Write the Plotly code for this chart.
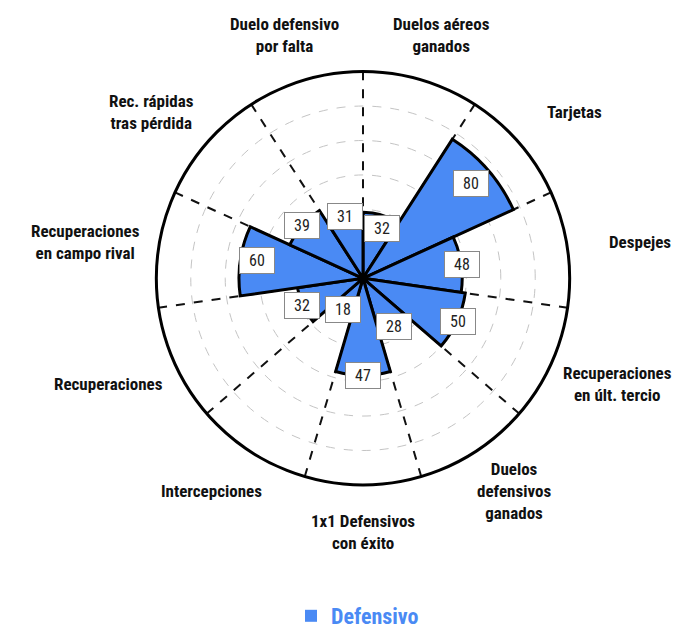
import math
import plotly.graph_objects as go

categorias = [
    "Duelos aéreos<br>ganados",
    "Tarjetas",
    "Despejes",
    "Recuperaciones<br>en últ. tercio",
    "Duelos<br>defensivos<br>ganados",
    "1x1 Defensivos<br>con éxito",
    "Intercepciones",
    "Recuperaciones",
    "Recuperaciones<br>en campo rival",
    "Rec. rápidas<br>tras pérdida",
    "Duelo defensivo<br>por falta",
]
valores = [32, 80, 48, 50, 28, 47, 18, 32, 60, 39, 31]
serie = "Defensivo"
r_max = 100

AZUL = "#4A8AF4"
FUENTE = "Roboto Condensed, Roboto, sans-serif"

# page / polar geometry (px)
W, H = 699, 629
CX, CY, R = 355, 272, 208
# category labels sit on an ellipse around the circle
LAB_A, LAB_B = 280, 255

n = len(categorias)
paso = 360 / n
centros = [i * paso + paso / 2 for i in range(n)]
limites = [i * paso for i in range(n)]

dom_x = [(CX - R) / W, (CX + R) / W]
dom_y = [1 - (CY + R) / H, 1 - (CY - R) / H]

fig = go.Figure()

fig.add_trace(go.Barpolar(
    r = valores,
    theta = centros,
    width = [paso] * n,
    marker = dict(color = AZUL, line = dict(color = "black", width = 3)),
    name = serie,
    showlegend = False,
))

# legend entry only
fig.add_trace(go.Scatterpolar(
    r = [None],
    theta = [None],
    mode = "markers",
    marker = dict(symbol = "square", size = 16, color = AZUL),
    name = serie,
))

# value boxes
for v, ang in zip(valores, centros):
    a = math.radians(ang)
    px = CX + v / r_max * R * math.sin(a)
    py = CY - v / r_max * R * math.cos(a)
    fig.add_annotation(
        x = px / W, y = 1 - py / H, xref = "paper", yref = "paper",
        text = str(v), showarrow = False,
        font = dict(family = FUENTE, size = 16, color = "#222"),
        bgcolor = "white", bordercolor = "#888", borderwidth = 1,
        borderpad = 3, width = 28,
    )

# category labels
for cat, ang in zip(categorias, centros):
    a = math.radians(ang)
    px = CX + LAB_A * math.sin(a)
    py = CY - LAB_B * math.cos(a)
    fig.add_annotation(
        x = px / W, y = 1 - py / H, xref = "paper", yref = "paper",
        text = cat, showarrow = False, align = "center",
        xanchor = "center", yanchor = "middle",
        font = dict(family = FUENTE, size = 17, color = "#111", weight = "bold"),
    )

fig.update_layout(
    width = W,
    height = H,
    margin = dict(l = 0, r = 0, t = 0, b = 0),
    paper_bgcolor = "white",
    polar = dict(
        domain = dict(x = dom_x, y = dom_y),
        bgcolor = "white",
        angularaxis = dict(
            direction = "clockwise", rotation = 90, thetaunit = "degrees",
            tickvals = limites, showticklabels = False, ticks = "",
            showgrid = True, gridcolor = "#111", griddash = "dash", gridwidth = 1.6,
            showline = True, linecolor = "black", linewidth = 3,
        ),
        radialaxis = dict(
            range = [0, r_max], tickvals = [r_max * k / 6 for k in range(1, 6)],
            showticklabels = False, ticks = "", showline = False,
            gridcolor = "#c4c4c4", griddash = "dash", gridwidth = 1,
        ),
    ),
    showlegend = True,
    legend = dict(
        orientation = "h", x = 0.5, xanchor = "center", y = 1 - 612 / H, yanchor = "middle",
        font = dict(family = FUENTE, size = 22, color = AZUL, weight = "bold"),
        itemsizing = "constant",
    ),
)

fig.write_html("out.html")
